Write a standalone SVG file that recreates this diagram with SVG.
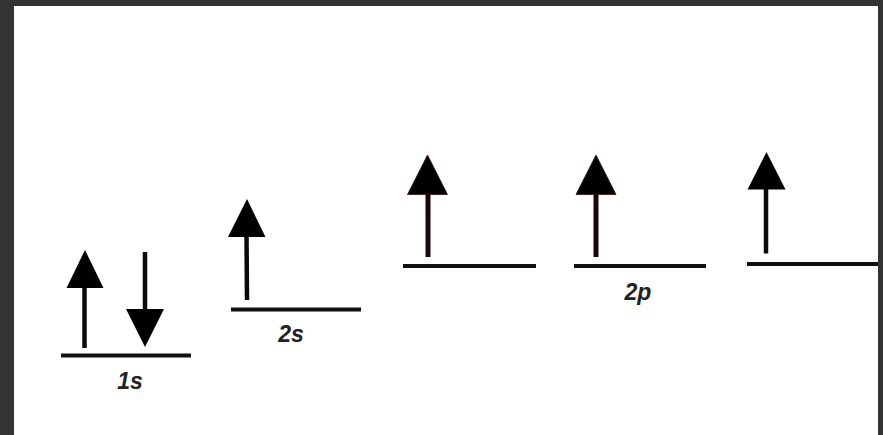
<svg xmlns="http://www.w3.org/2000/svg" width="883" height="435" viewBox="0 0 883 435">
<style>
.lvl{stroke:#111;stroke-width:4;fill:none}
.shaft{stroke:#0a0a0a;stroke-width:4.5;fill:none}
.shaft2{stroke:#1a0808;stroke-width:5;fill:none}
.head{fill:#000}
.lbl{font-family:"Liberation Sans",Arial,sans-serif;font-weight:bold;font-style:italic;font-size:23px;fill:#222;text-anchor:middle}
</style>
<rect x="0" y="0" width="883" height="435" fill="#333333"/>
<rect x="14" y="6" width="864" height="429" fill="#ffffff"/>
<g id="orbital-1s">
<line class="lvl" x1="61" y1="355.5" x2="191" y2="355.5"/>
<line class="shaft" x1="84.5" y1="348" x2="84.5" y2="285"/>
<polygon class="head" points="66.5,288 103.5,288 85,250"/>
<line class="shaft" x1="145" y1="252" x2="145" y2="312"/>
<polygon class="head" points="126,309 164,309 145,347"/>
<text class="lbl" x="130" y="389">1s</text>
</g>
<g id="orbital-2s">
<line class="lvl" x1="231" y1="309.5" x2="361" y2="309.5"/>
<line class="shaft" x1="247" y1="300" x2="246.5" y2="234"/>
<polygon class="head" points="228,237 265.5,237 247,199"/>
<text class="lbl" x="291" y="342">2s</text>
</g>
<g id="orbital-2p-1">
<line class="lvl" x1="403" y1="266" x2="536" y2="266"/>
<line class="shaft2" x1="428" y1="257" x2="428" y2="192"/>
<polygon class="head" points="407.5,194.5 447.5,194.5 427.5,155" stroke="#3a1010" stroke-width="0.8"/>
</g>
<g id="orbital-2p-2">
<line class="lvl" x1="574" y1="266" x2="706" y2="266"/>
<line class="shaft2" x1="596" y1="257" x2="596" y2="192"/>
<polygon class="head" points="576,194.5 616,194.5 596,155" stroke="#3a1010" stroke-width="0.8"/>
<text class="lbl" x="638" y="300">2p</text>
</g>
<g id="orbital-2p-3">
<line class="lvl" x1="747" y1="264" x2="878" y2="264"/>
<line class="shaft" x1="766" y1="253.5" x2="766" y2="187"/>
<polygon class="head" points="747.5,189.5 785.5,189.5 766.5,152"/>
</g>
<g id="connectors"></g>
</svg>
